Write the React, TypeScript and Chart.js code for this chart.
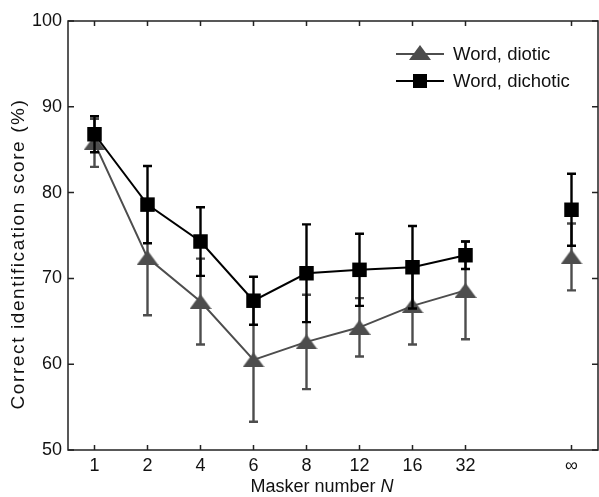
import { useEffect, useRef } from 'react';
import { Chart, registerables } from 'chart.js';

Chart.register(...registerables);

const maskerLabels = ['1', '2', '4', '6', '8', '12', '16', '32', '∞'];
const positions = [0, 1, 2, 3, 4, 5, 6, 7, 9];
const dioticMean = [85.8, 72.4, 67.3, 60.5, 62.6, 64.3, 66.8, 68.6, 72.5];
const dioticErr = [2.8, 6.7, 5.0, 7.2, 5.5, 3.4, 4.5, 5.7, 3.9];
const dichoticMean = [86.8, 78.6, 74.3, 67.4, 70.6, 71.0, 71.3, 72.7, 78.0];
const dichoticErr = [2.1, 4.5, 4.0, 2.8, 5.7, 4.2, 4.8, 1.6, 4.2];
const yTicks = [50, 60, 70, 80, 90, 100];

const GRAY = '#4d4d4d';
const BLACK = '#000000';
const FONT_FAMILY = '"Liberation Sans", Arial, Helvetica, sans-serif';
const TEXT = '#111111';

function makeTriangle(color: string) {
  const c = document.createElement('canvas');
  c.width = 22;
  c.height = 15;
  const g = c.getContext('2d')!;
  g.fillStyle = color;
  g.beginPath();
  g.moveTo(11, 0);
  g.lineTo(22, 15);
  g.lineTo(0, 15);
  g.closePath();
  g.fill();
  return c;
}

export default function App() {
  const ref = useRef<HTMLCanvasElement | null>(null);

  useEffect(() => {
    document.body.style.margin = '0';
    const canvas = ref.current;
    if (!canvas) return;
    const tri = makeTriangle(GRAY);
    const means = [dichoticMean, dioticMean];
    const errs = [dichoticErr, dioticErr];
    const colors = [BLACK, GRAY];

    const plugin = {
      id: 'custom',
      beforeDatasetDraw(chart: any, args: any) {
        const idx = args.index;
        const ctx = chart.ctx;
        const xs = chart.scales.x;
        const ys = chart.scales.y;
        ctx.save();
        ctx.strokeStyle = colors[idx];
        ctx.lineWidth = 2.4;
        positions.forEach((p, i) => {
          const x = xs.getPixelForValue(p);
          const yt = ys.getPixelForValue(means[idx][i] + errs[idx][i]);
          const yb = ys.getPixelForValue(means[idx][i] - errs[idx][i]);
          ctx.beginPath();
          ctx.moveTo(x, yt);
          ctx.lineTo(x, yb);
          ctx.moveTo(x - 4.5, yt);
          ctx.lineTo(x + 4.5, yt);
          ctx.moveTo(x - 4.5, yb);
          ctx.lineTo(x + 4.5, yb);
          ctx.stroke();
        });
        ctx.restore();
      },
      afterDraw(chart: any) {
        const ctx = chart.ctx;
        const a = chart.chartArea;
        const xs = chart.scales.x;
        const ys = chart.scales.y;
        ctx.save();
        // frame
        ctx.strokeStyle = '#222';
        ctx.lineWidth = 1.5;
        ctx.strokeRect(a.left, a.top, a.right - a.left, a.bottom - a.top);
        // inward ticks
        ctx.beginPath();
        positions.forEach((p) => {
          const x = xs.getPixelForValue(p);
          ctx.moveTo(x, a.bottom);
          ctx.lineTo(x, a.bottom - 5);
          ctx.moveTo(x, a.top);
          ctx.lineTo(x, a.top + 5);
        });
        yTicks.forEach((v) => {
          const y = ys.getPixelForValue(v);
          ctx.moveTo(a.left, y);
          ctx.lineTo(a.left + 6, y);
          ctx.moveTo(a.right, y);
          ctx.lineTo(a.right - 6, y);
        });
        ctx.stroke();

        // y title
        ctx.fillStyle = TEXT;
        ctx.font = `19px ${FONT_FAMILY}`;
        ctx.textAlign = 'center';
        ctx.textBaseline = 'middle';
        ctx.save();
        (ctx as any).letterSpacing = '1.6px';
        ctx.translate(19, 254);
        ctx.rotate(-Math.PI / 2);
        ctx.fillText('Correct identification score (%)', 0, 0);
        ctx.restore();
        (ctx as any).letterSpacing = '0px';

        // x title with italic N
        const part1 = 'Masker number ';
        const part2 = 'N';
        ctx.font = `18px ${FONT_FAMILY}`;
        const w1 = ctx.measureText(part1).width;
        ctx.font = `italic 18px ${FONT_FAMILY}`;
        const w2 = ctx.measureText(part2).width;
        const startX = 322 - (w1 + w2) / 2;
        ctx.textAlign = 'left';
        ctx.font = `18px ${FONT_FAMILY}`;
        ctx.fillText(part1, startX, 487);
        ctx.font = `italic 18px ${FONT_FAMILY}`;
        ctx.fillText(part2, startX + w1, 487);

        // legend
        const rows = [
          { label: 'Word, diotic', color: GRAY, y: 54, kind: 'tri' },
          { label: 'Word, dichotic', color: BLACK, y: 81, kind: 'sq' },
        ];
        const lx0 = a.right - 202;
        const lx1 = a.right - 154;
        const mx = (lx0 + lx1) / 2;
        rows.forEach((r) => {
          ctx.strokeStyle = r.color;
          ctx.lineWidth = 2;
          ctx.beginPath();
          ctx.moveTo(lx0, r.y);
          ctx.lineTo(lx1, r.y);
          ctx.stroke();
          if (r.kind === 'tri') {
            ctx.drawImage(tri, mx - 11, r.y - 9);
          } else {
            ctx.fillStyle = r.color;
            ctx.fillRect(mx - 7, r.y - 7, 14, 14);
          }
          ctx.fillStyle = TEXT;
          ctx.font = `18.5px ${FONT_FAMILY}`;
          ctx.textAlign = 'left';
          ctx.textBaseline = 'middle';
          ctx.fillText(r.label, lx1 + 9, r.y + 1);
        });
        ctx.restore();
      },
    };

    const lineSegment = (color: string) => ({
      borderColor: (c: any) => (c.p1.parsed.x > 8 ? 'rgba(0,0,0,0)' : color),
    });

    const chart = new Chart(canvas, {
      type: 'line',
      data: {
        datasets: [
          {
            label: 'Word, dichotic',
            data: positions.map((p, i) => ({ x: p, y: dichoticMean[i] })),
            borderColor: BLACK,
            backgroundColor: BLACK,
            borderWidth: 2,
            pointStyle: 'rect',
            pointRadius: 10.25,
            pointHoverRadius: 10.25,
            pointBorderWidth: 0,
            pointBackgroundColor: BLACK,
            segment: lineSegment(BLACK),
          },
          {
            label: 'Word, diotic',
            data: positions.map((p, i) => ({ x: p, y: dioticMean[i] })),
            borderColor: GRAY,
            backgroundColor: GRAY,
            borderWidth: 2,
            pointStyle: tri as any,
            pointRadius: 10,
            pointBorderWidth: 0,
            segment: lineSegment(GRAY),
          },
        ],
      },
      options: {
        responsive: false,
        animation: false,
        events: [],
        layout: { autoPadding: false, padding: { top: 21, right: 1, left: 0, bottom: 0 } },
        plugins: { legend: { display: false }, tooltip: { enabled: false }, title: { display: false } },
        scales: {
          x: {
            type: 'linear',
            min: -0.5,
            max: 9.5,
            afterBuildTicks: (s: any) => {
              s.ticks = positions.map((v) => ({ value: v }));
            },
            afterFit: (s: any) => {
              s.height = 47;
              s.paddingLeft = 0;
              s.paddingRight = 0;
            },
            ticks: {
              autoSkip: false,
              maxRotation: 0,
              padding: 5,
              color: TEXT,
              font: { family: FONT_FAMILY, size: 18 },
              callback: (v: any) => {
                const i = positions.indexOf(Number(v));
                return i >= 0 ? maskerLabels[i] : '';
              },
            },
            grid: { display: false, drawTicks: false },
            border: { display: false },
          },
          y: {
            min: 50,
            max: 100,
            afterBuildTicks: (s: any) => {
              s.ticks = yTicks.map((v) => ({ value: v }));
            },
            afterFit: (s: any) => {
              s.width = 68;
            },
            ticks: {
              padding: 6,
              color: TEXT,
              font: { family: FONT_FAMILY, size: 18 },
            },
            grid: { display: false, drawTicks: false },
            border: { display: false },
          },
        },
      },
      plugins: [plugin],
    });
    return () => chart.destroy();
  }, []);

  return (
    <div style={{ width: 599, height: 497 }}>
      <canvas ref={ref} width={599} height={497} style={{ display: 'block' }} />
    </div>
  );
}
